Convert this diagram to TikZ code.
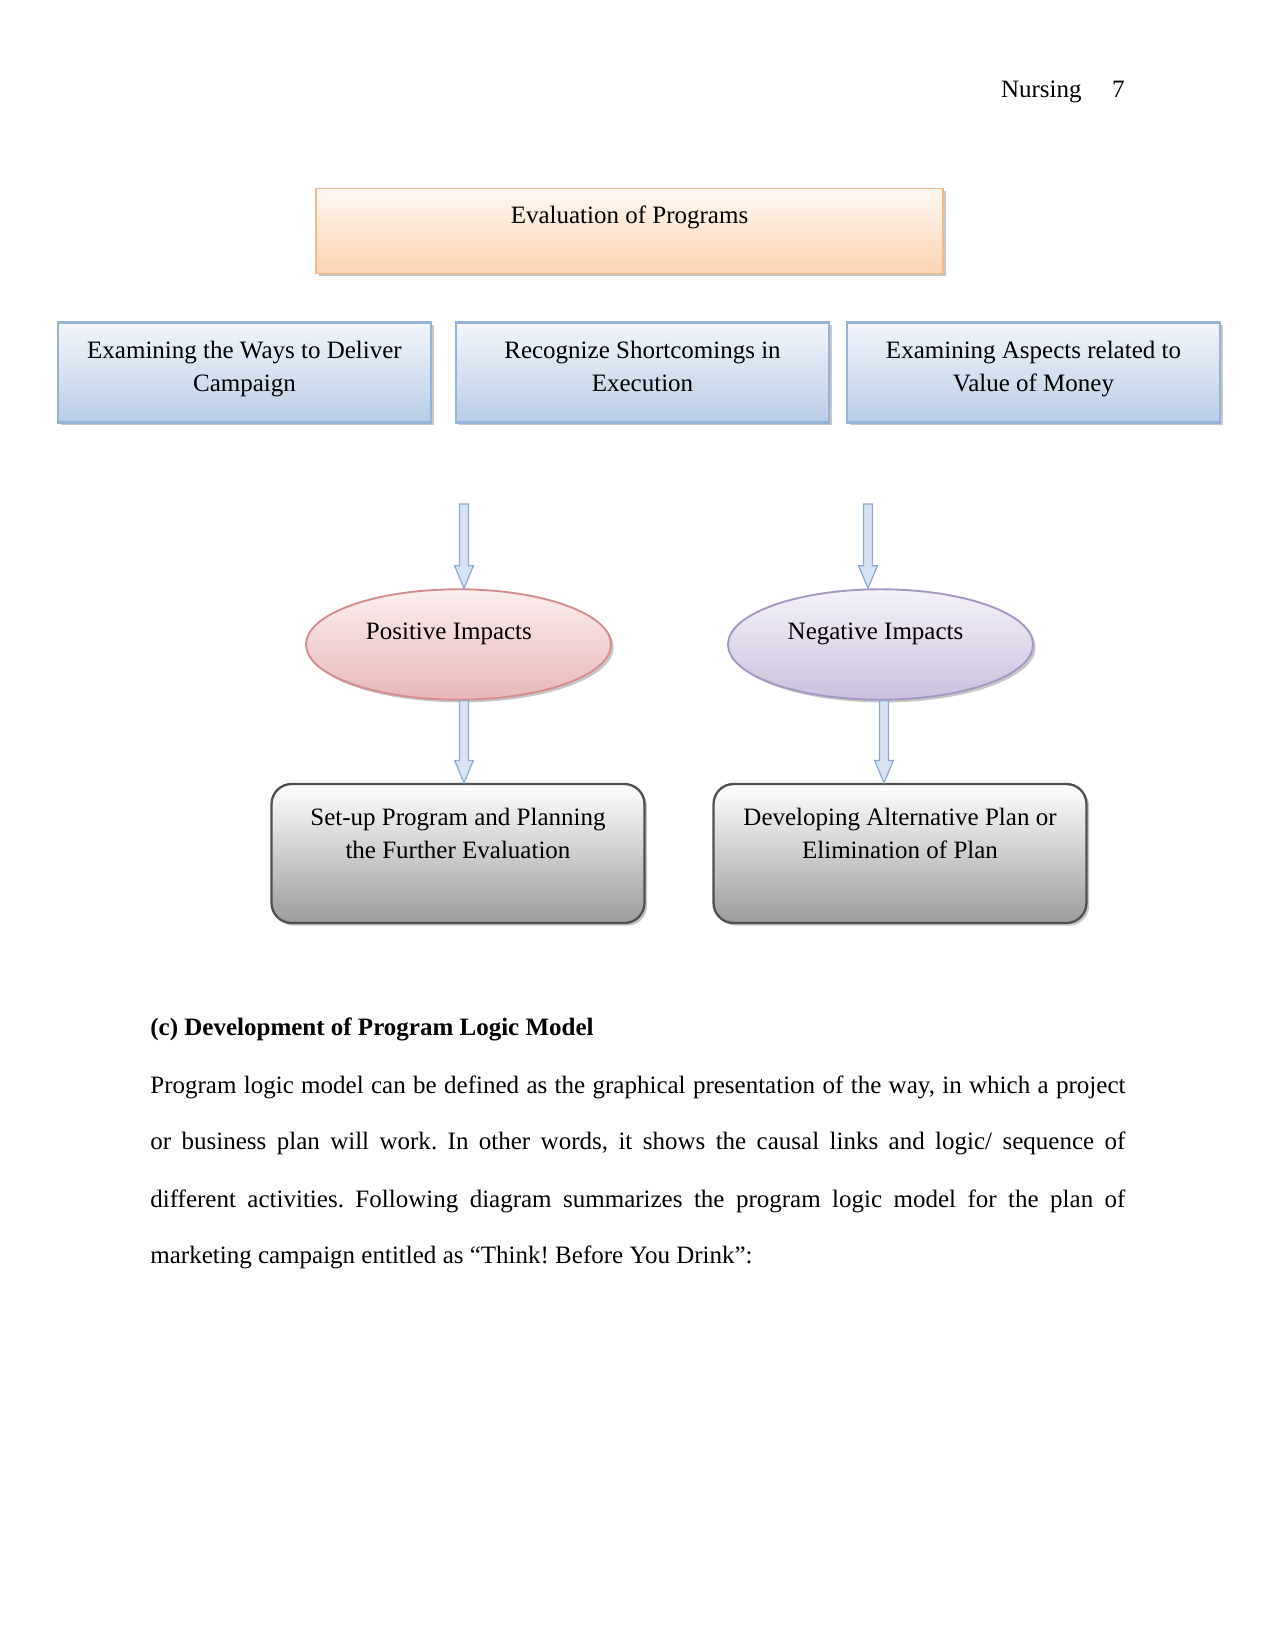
\documentclass[tikz,border=0pt]{standalone}
\usepackage{fontspec}
\setmainfont{Liberation Serif}
\frenchspacing
\usetikzlibrary{shapes.geometric,shadows,calc}
\definecolor{evalTop}{HTML}{FFF8F2}
\definecolor{evalBot}{HTML}{FBD3B2}
\definecolor{evalBrd}{HTML}{F2B98A}
\definecolor{blueTop}{HTML}{F2F6FB}
\definecolor{blueBot}{HTML}{B9CDE5}
\definecolor{blueBrd}{HTML}{95B3D7}
\definecolor{pinkTop}{HTML}{FCEFEF}
\definecolor{pinkBot}{HTML}{E8B7B7}
\definecolor{pinkBrd}{HTML}{D48C8C}
\definecolor{purpTop}{HTML}{F5F2FA}
\definecolor{purpBot}{HTML}{CBC0DD}
\definecolor{purpBrd}{HTML}{A497C2}
\definecolor{grayBot}{HTML}{9C9C9C}
\definecolor{grayBrd}{HTML}{505050}
\definecolor{arrFill}{HTML}{D6E3F3}
\definecolor{arrBrd}{HTML}{8DAAD6}
\newcommand\toptext[5]{\parbox[c][#1][t]{#2}{\centering\fontsize{12}{#4}\selectfont\rule{0pt}{#3}#5}}
\newcommand\blockarrow[2]{%
  \path[barrow] let \p1=(#1), \p2=(#2) in
    (\x1-2.2pt,\y1) -- (\x1+2.2pt,\y1) -- (\x1+2.2pt,\y2+10.8pt) -- (\x1+4.5pt,\y2+10.8pt)
    -- (\x1,\y2) -- (\x1-4.5pt,\y2+10.8pt) -- (\x1-2.2pt,\y2+10.8pt) -- cycle;}
\tikzset{
  every node/.style={font=\fontsize{12}{14}\selectfont},
  shadowed/.style={drop shadow={shadow xshift=1.3pt, shadow yshift=-1.3pt, fill=black, opacity=0.22}},
  evalbox/.style={shadowed, draw=evalBrd, line width=0.9pt, top color=evalTop, bottom color=evalBot, inner sep=0pt},
  bluebox/.style={shadowed, draw=blueBrd, line width=1pt, top color=blueTop, bottom color=blueBot, inner sep=0pt},
  grayboxstyle/.style={shadowed, draw=grayBrd, line width=1.1pt, rounded corners=9.6pt, top color=white, bottom color=grayBot, inner sep=0pt},
  pinkell/.style={shadowed, ellipse, draw=pinkBrd, line width=0.9pt, top color=pinkTop, bottom color=pinkBot, inner sep=0pt, minimum width=146.4pt, minimum height=53pt, text depth=13pt},
  purpell/.style={shadowed, ellipse, draw=purpBrd, line width=0.9pt, top color=purpTop, bottom color=purpBot, inner sep=0pt, minimum width=146.4pt, minimum height=53pt, text depth=13pt},
  barrow/.style={draw=arrBrd, line width=0.6pt, fill=arrFill},
  bodytext/.style={anchor=base west, inner sep=0pt}
}
\begin{document}
\begin{tikzpicture}[x=0.48pt,y=-0.48pt]
\fill[white] (0,0) rectangle (1275,1650);
\useasboundingbox (0,0) rectangle (1275,1650);

% header
\node[anchor=base east, inner sep=0pt] (runhead) at (1082,98) {Nursing};
\node[anchor=base east, inner sep=0pt] (pagenum) at (1125,98) {7};

% top box
\node[evalbox] (eval) at (629.5,231) {\toptext{40.8pt}{301pt}{16.6pt}{15.8pt}{Evaluation of Programs}};

% blue boxes
\node[bluebox] (ways) at (244.5,372.5) {\toptext{48pt}{179pt}{17.2pt}{15.8pt}{Examining the Ways to Deliver\\Campaign}};
\node[bluebox] (short) at (642.5,372.5) {\toptext{48pt}{179pt}{17.2pt}{15.8pt}{Recognize Shortcomings in\\Execution}};
\node[bluebox] (money) at (1033.5,372.5) {\toptext{48pt}{179pt}{17.2pt}{15.8pt}{Examining Aspects related to\\Value of Money}};

% ellipses
\node[pinkell] (pos) at (458.5,644.5) {\hspace*{-4.6pt}Positive Impacts\hspace*{4.6pt}};
\node[purpell] (neg) at (880.5,644.5) {\hspace*{-2.4pt}Negative Impacts\hspace*{2.4pt}};

% bottom boxes
\node[grayboxstyle] (setup) at (458,853.5) {\toptext{66.7pt}{179pt}{20pt}{15.8pt}{Set-up Program and Planning\\the Further Evaluation}};
\node[grayboxstyle] (dev) at (900,853.5) {\toptext{66.7pt}{179pt}{20pt}{15.8pt}{Developing Alternative Plan or\\Elimination of Plan}};

% arrows
\coordinate (a1) at (464,504);
\coordinate (a2) at (868,504);
\coordinate (b1) at (464,0);
\coordinate (b2) at (884,0);
\blockarrow{a1}{a1 |- pos.north}
\blockarrow{a2}{a2 |- neg.north}
\blockarrow{b1 |- pos.south}{b1 |- setup.north}
\blockarrow{b2 |- neg.south}{b2 |- dev.north}

% text below
\node[bodytext] (head) at (150,1035) {\textbf{(c) Development of Program Logic Model}};
\node[bodytext] (l1) at (150,1093) {\hbox to 468pt{Program logic model can be defined as the graphical presentation of the way, in which a project}};
\node[bodytext] (l2) at (150,1149) {\hbox to 468pt{or business plan will work. In other words, it shows the causal links and logic/ sequence of}};
\node[bodytext] (l3) at (150,1207) {\hbox to 468pt{different activities. Following diagram summarizes the program logic model for the plan of}};
\node[bodytext] (l4) at (150,1263) {marketing campaign entitled as “Think! Before You Drink”:};
\end{tikzpicture}
\end{document}
